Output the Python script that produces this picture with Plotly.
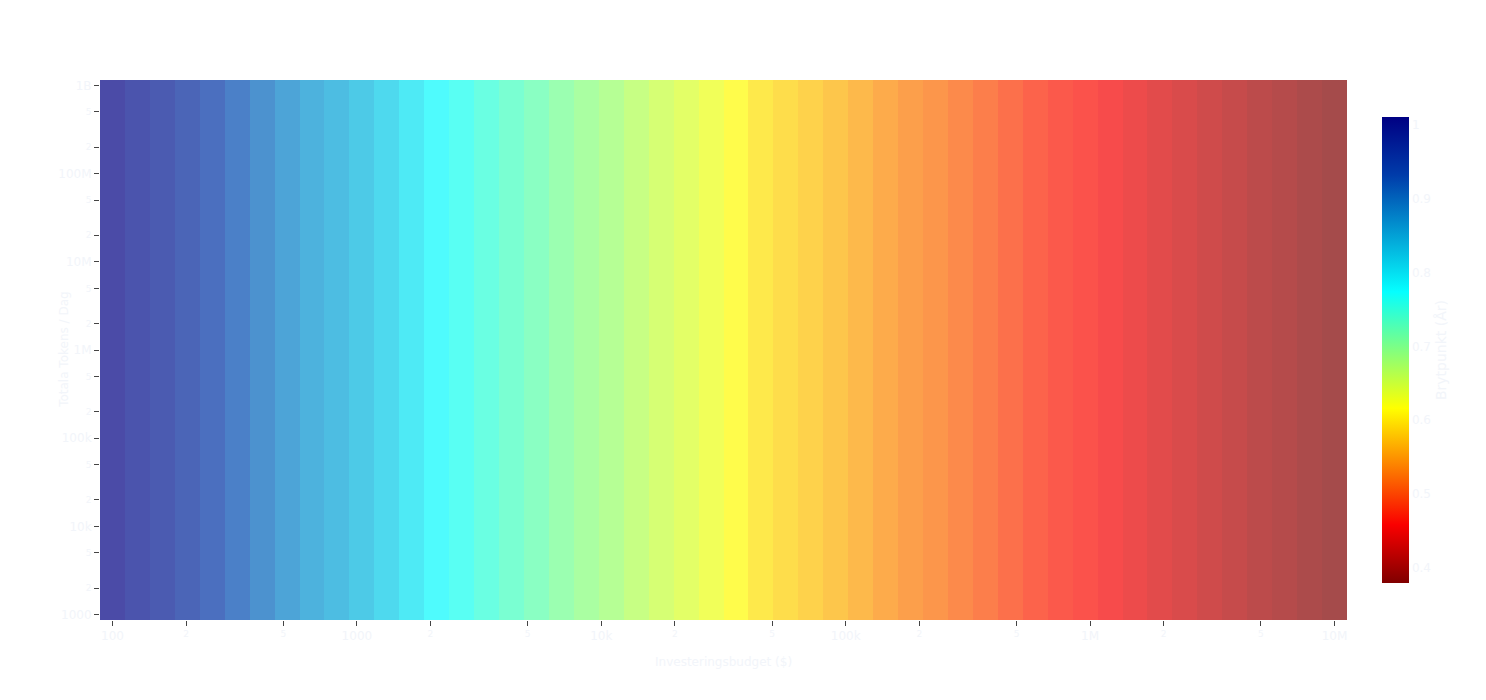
import plotly.graph_objects as go

# Investeringsbudget ($) - kolumner (log-skala)
budget = [100, 126.5, 160.0, 202.4, 255.9, 323.7, 409.5, 517.9, 655.1, 828.6,
          1048, 1326, 1677, 2121, 2683, 3393, 4292, 5429, 6866, 8685,
          10985, 13895, 17575, 22230, 28118, 35565, 44984, 56899, 71969, 91030,
          115140, 145635, 184207, 232995, 294705, 372759, 471487, 596362, 754312, 954095,
          1206793, 1526418, 1930698, 2442053, 3088844, 3906940, 4941713, 6250552, 7906043, 10000000]

# Totala tokens / dag - rader (log-skala)
tokens = [1000, 1326, 1758, 2330, 3089, 4095, 5429, 7197, 9541, 12649,
          16768, 22230, 29471, 39069, 51795, 68665, 91030, 120679, 159986, 212095,
          281177, 372759, 494171, 655129, 868511, 1151395, 1526418, 2023590, 2682696, 3556480,
          4714866, 6250552, 8286428, 10985411, 14563485, 19306977, 25595479, 33932218, 44984327, 59636233,
          79060432, 104811313, 138949549, 184206997, 244205309, 323745754, 429193426, 568986603, 754312006, 1000000000]

# Brytpunkt (år) per budgetkolumn
breakpoint_years = [1.010, 0.994, 0.981, 0.963, 0.943, 0.919, 0.898, 0.878, 0.862, 0.849,
                    0.834, 0.817, 0.797, 0.778, 0.764, 0.749, 0.735, 0.721, 0.706, 0.692,
                    0.681, 0.666, 0.652, 0.641, 0.628, 0.614, 0.597, 0.587, 0.577, 0.567,
                    0.555, 0.543, 0.532, 0.525, 0.514, 0.503, 0.491, 0.480, 0.471, 0.464,
                    0.455, 0.446, 0.436, 0.427, 0.418, 0.410, 0.401, 0.394, 0.386, 0.380]

z = [list(breakpoint_years) for _ in tokens]

# jet (plotly.js stops), reversed
jet_r = [[0, 'rgb(128,0,0)'], [0.125, 'rgb(250,0,0)'], [0.375, 'rgb(255,255,0)'],
         [0.625, 'rgb(5,255,255)'], [0.875, 'rgb(0,60,170)'], [1, 'rgb(0,0,131)']]

txt = '#f2f5fa'

fig = go.Figure(go.Heatmap(
    x=budget,
    y=tokens,
    z=z,
    colorscale=jet_r,
    opacity=0.7,
    colorbar=dict(
        title=dict(text='Brytpunkt (År)', side='right'),
        len=0.9,
        thickness=27,
        outlinewidth=0,
        ticks='',
    ),
))

fig.update_layout(
    template='none',
    width=1486,
    height=700,
    font=dict(family='DejaVu Sans', size=12, color=txt),
    paper_bgcolor='white',
    plot_bgcolor='white',
    margin=dict(l=92, r=147, t=72, b=88),
    xaxis=dict(type='log', ticks='outside', ticklen=5,
               tickcolor='#444', showgrid=False, zeroline=False),
    yaxis=dict(type='log', ticks='outside', ticklen=5,
               tickcolor='#444', showgrid=False, zeroline=False),
)

# axeltitlar
fig.add_annotation(text='Investeringsbudget ($)', xref='paper', yref='paper',
                   x=0.5, y=-0.078, xanchor='center', yanchor='middle', showarrow=False)
fig.add_annotation(text='Totala Tokens / Dag', xref='paper', yref='paper',
                   x=-0.029, y=0.5, xanchor='center', yanchor='middle', textangle=-90, showarrow=False)

fig.write_html("out.html")
